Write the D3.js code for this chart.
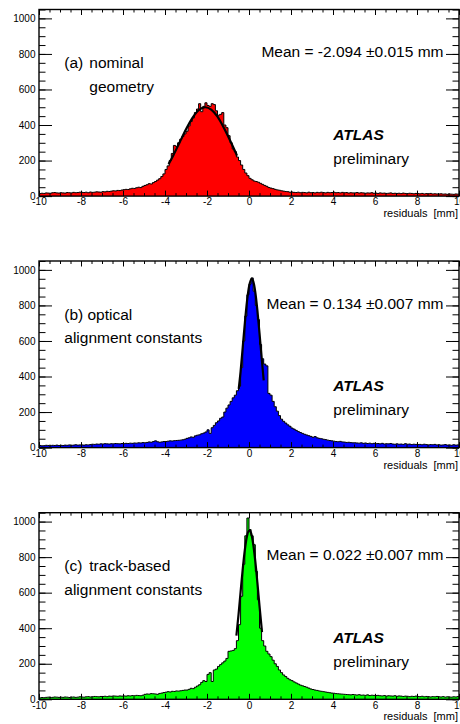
<!DOCTYPE html>
<html><head><meta charset="utf-8">
<script src="https://cdn.jsdelivr.net/npm/d3@7"></script>
<style>
body{margin:0;background:#fff}
svg{display:block}
text{font-family:"Liberation Sans",Arial,Helvetica,sans-serif;fill:#000}
</style>
</head><body>
<svg id="chart" width="460" height="724"></svg>
<script>
// ---------- data ----------
const binStart = -10, binWidth = 0.1;
const xTickValues = [-10,-8,-6,-4,-2,0,2,4,6,8,10];
const xTickLabels = ["-10","-8","-6","-4","-2","0","2","4","6","8","10"];
const yTickValues = [0,200,400,600,800,1000];
const yTickLabels = ["0","200","400","600","800","1000"];
const axisTitle = "residuals  [mm]";

const nominalCounts = [
 14,16,15,18,17,16,19,20,18,17,
 19,18,17,20,19,18,21,19,20,22,
 21,20,22,19,23,21,22,24,23,22,
 25,24,27,26,28,30,29,32,31,34,
 36,38,37,41,44,43,47,50,48,55,
 60,64,70,68,76,82,90,98,110,125,
 150,170,200,240,285,280,300,320,335,350,
 365,395,420,440,470,490,520,475,505,525,
 510,505,520,515,480,455,460,470,400,385,
 340,300,265,250,220,200,175,150,130,115,
 100,92,85,82,78,72,66,60,55,48,
 45,42,38,35,33,30,28,26,25,22,
 23,21,20,22,19,21,20,18,22,19,
 20,18,21,19,22,20,18,21,19,20,
 22,19,20,18,21,19,20,17,19,18,
 18,20,17,19,18,16,18,17,19,16,
 17,15,18,16,17,15,16,18,15,16,
 15,16,14,17,15,14,16,15,13,15,
 14,13,15,12,14,13,15,12,13,12,
 12,13,11,12,10,12,11,10,12,11];

const opticalCounts = [
 12,10,11,13,12,11,13,12,14,12,
 13,12,14,13,15,13,14,16,14,15,
 15,14,16,15,17,19,18,20,19,21,
 20,22,21,20,22,21,23,22,21,23,
 22,24,23,25,24,26,25,27,26,28,
 27,29,32,30,34,38,33,30,32,34,
 34,36,38,37,39,40,41,42,44,47,
 52,55,60,58,66,70,72,78,82,88,
 100,80,112,125,140,150,165,172,200,222,
 240,260,280,295,320,345,450,600,740,860,
 920,955,880,800,720,580,500,470,460,305,
 295,260,230,205,180,160,148,138,128,120,
 110,104,97,90,85,80,75,71,67,63,
 58,62,55,52,50,47,45,42,40,38,
 36,34,33,35,32,31,29,30,28,27,
 27,26,25,27,24,26,23,25,22,24,
 22,23,21,24,20,22,21,23,20,19,
 21,19,20,18,22,19,20,17,19,18,
 17,18,16,19,17,15,17,16,18,15,
 16,14,15,17,14,15,13,16,14,15];

const trackCounts = [
 8,10,9,11,12,10,11,13,12,11,
 12,11,13,12,10,12,13,11,12,14,
 13,12,14,15,13,14,16,15,14,16,
 16,17,15,18,17,19,18,17,19,18,
 19,18,20,19,21,20,22,21,20,23,
 28,30,29,32,31,30,28,33,35,38,
 40,43,41,45,44,47,46,48,50,52,
 52,56,62,60,68,75,82,95,105,100,
 140,150,100,165,170,185,195,205,215,230,
 270,272,275,285,330,420,580,760,920,1020,
 955,920,870,720,560,400,330,300,270,255,
 240,220,200,185,165,150,137,128,118,110,
 105,98,92,86,80,76,72,68,63,58,
 55,52,50,47,45,43,41,39,37,35,
 34,32,31,30,29,28,27,26,25,27,
 25,24,26,23,24,22,25,21,23,22,
 21,22,20,19,21,18,20,19,18,20,
 17,19,18,16,18,17,15,17,16,18,
 16,15,17,14,16,15,13,15,14,16,
 14,13,15,12,14,13,12,14,13,15];

// fitted Gaussian curves
const nominalFitX = [-3.83,-3.6,-3.3,-3.0,-2.7,-2.4,-2.08,-1.8,-1.5,-1.2,-0.9,-0.57];
const nominalFitY = [180,230,303,376,439,483,500,487,447,385,313,228];
const opticalFitX = [-0.49,-0.4,-0.3,-0.2,-0.1,0,0.13,0.2,0.3,0.4,0.5,0.6,0.7];
const opticalFitY = [330,429,563,698,818,905,950,937,875,772,644,508,378];
const trackFitX = [-0.6,-0.5,-0.4,-0.3,-0.2,-0.1,0.02,0.1,0.2,0.3,0.4,0.5,0.62];
const trackFitY = [358,475,605,731,839,916,950,935,874,777,656,526,378];

const panelLabels = ["(a)","(b)","(c)"];
const panelLine1 = ["nominal","optical","track-based"];
const panelLine2 = ["geometry","alignment constants","alignment constants"];
const meanTexts = ["Mean = -2.094 \u00B10.015 mm","Mean = 0.134 \u00B10.007 mm","Mean = 0.022 \u00B10.007 mm"];
const panelColors = ["#ff0000","#0000ff","#00ff00"];

// ---------- layout ----------
const svg = d3.select("#chart");
const left = 39, right = 459;
const panelTops = [9.5, 261, 512.7];
const panelH = 186.6;
const x = d3.scaleLinear().domain([-10,10]).range([left,right]);
const FONT = '"Liberation Sans",Arial,Helvetica,sans-serif';

const panels = [
  {counts:nominalCounts, fx:nominalFitX, fy:nominalFitY, line1X:89.3, line2X:89.3},
  {counts:opticalCounts, fx:opticalFitX, fy:opticalFitY, line1X:87.5, line2X:64.3},
  {counts:trackCounts,   fx:trackFitX,   fy:trackFitY,   line1X:89.3, line2X:64.3}
];

panels.forEach((p,k)=>{
  const top = panelTops[k], bottom = top + panelH;
  const y = d3.scaleLinear().domain([0,1050]).range([bottom, top]);
  const g = svg.append("g");
  const cid = "clip"+k;
  svg.append("clipPath").attr("id",cid).append("rect")
     .attr("x",left).attr("y",top).attr("width",right-left).attr("height",panelH);

  const pts = p.counts.map((v,i)=>[binStart+i*binWidth, v]);
  pts.push([binStart+p.counts.length*binWidth, p.counts[p.counts.length-1]]);
  const area = d3.area().x(d=>x(d[0])).y0(y(0)).y1(d=>y(d[1])).curve(d3.curveStepAfter);
  const line = d3.line().x(d=>x(d[0])).y(d=>y(d[1])).curve(d3.curveStepAfter);
  g.append("path").datum(pts).attr("d",area).attr("fill",panelColors[k]).attr("clip-path",`url(#${cid})`);
  g.append("path").datum(pts).attr("d",line).attr("fill","none").attr("stroke","#000")
     .attr("stroke-width",1).attr("clip-path",`url(#${cid})`);

  const fit = p.fx.map((xx,i)=>[xx,p.fy[i]]);
  g.append("path").datum(fit)
   .attr("d", d3.line().x(d=>x(d[0])).y(d=>y(d[1])).curve(d3.curveMonotoneX))
   .attr("fill","none").attr("stroke","#000").attr("stroke-width",2.2);

  // axes
  const yMinor = d3.range(0,1051,50);
  const xMinor = d3.range(-10,10.01,0.5);
  const styleAxis = sel => { sel.select(".domain").remove(); sel.attr("font-family",FONT); };

  g.append("g").attr("transform",`translate(${left},0)`)
   .call(d3.axisLeft(y).tickValues(yMinor).tickSize(-6.5).tickFormat("")).call(styleAxis);
  g.append("g").attr("transform",`translate(${left},0)`)
   .call(d3.axisLeft(y).tickValues(yTickValues).tickSize(-13).tickPadding(3.5)
         .tickFormat((d,i)=>yTickLabels[i])).call(styleAxis)
   .selectAll("text").attr("font-size",10);
  g.append("g").attr("transform",`translate(${right},0)`)
   .call(d3.axisRight(y).tickValues(yMinor).tickSize(-6.5).tickFormat("")).call(styleAxis);
  g.append("g").attr("transform",`translate(${right},0)`)
   .call(d3.axisRight(y).tickValues(yTickValues).tickSize(-13).tickFormat("")).call(styleAxis);

  g.append("g").attr("transform",`translate(0,${bottom})`)
   .call(d3.axisBottom(x).tickValues(xMinor).tickSize(-3).tickFormat("")).call(styleAxis);
  g.append("g").attr("transform",`translate(0,${bottom})`)
   .call(d3.axisBottom(x).tickValues(xTickValues).tickSize(-5.5).tickPadding(2.3)
         .tickFormat((d,i)=>xTickLabels[i])).call(styleAxis)
   .selectAll("text").attr("font-size",10);
  g.append("g").attr("transform",`translate(0,${top})`)
   .call(d3.axisTop(x).tickValues(xMinor).tickSize(-3).tickFormat("")).call(styleAxis);
  g.append("g").attr("transform",`translate(0,${top})`)
   .call(d3.axisTop(x).tickValues(xTickValues).tickSize(-5.5).tickFormat("")).call(styleAxis);

  g.append("rect").attr("x",left).attr("y",top).attr("width",right-left).attr("height",panelH)
   .attr("fill","none").attr("stroke","#000").attr("stroke-width",1.4);

  g.append("text").attr("x",458).attr("y",bottom+21).attr("text-anchor","end")
   .attr("font-size",11).style("white-space","pre").text(axisTitle);

  // annotations
  g.append("text").attr("x",64.3).attr("y",top+58.5).attr("font-size",15.5).text(panelLabels[k]);
  g.append("text").attr("x",p.line1X).attr("y",top+58.5).attr("font-size",15.5).text(panelLine1[k]);
  g.append("text").attr("x",p.line2X).attr("y",top+82.3).attr("font-size",15.5).text(panelLine2[k]);
  g.append("text").attr("x",443.5).attr("y",top+47.5).attr("text-anchor","end")
   .attr("font-size",15.5).text(meanTexts[k]);
  g.append("text").attr("x",333.3).attr("y",top+130).attr("font-size",15.5)
   .attr("font-weight","bold").attr("font-style","italic").text("ATLAS");
  g.append("text").attr("x",333.3).attr("y",top+154).attr("font-size",15.5).text("preliminary");
});
</script>
</body></html>
